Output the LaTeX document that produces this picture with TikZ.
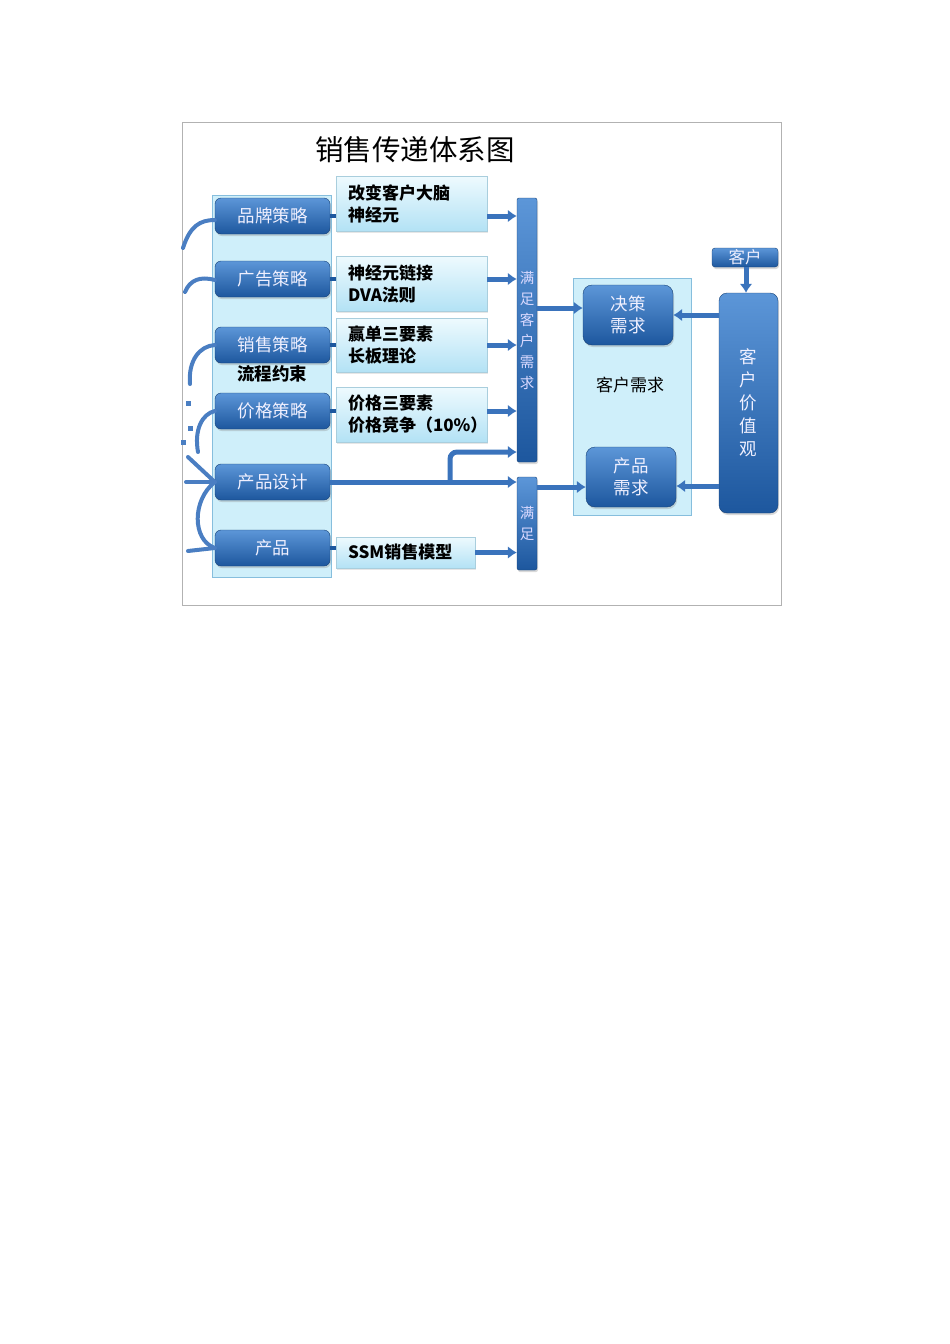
\documentclass[tikz,border=0pt]{standalone}
\usepackage{fontspec}
\setmainfont{Noto Sans CJK SC}
\usepackage{tikz}
\usetikzlibrary{positioning, arrows.meta, shadows}

\definecolor{btntop}{HTML}{5C96D8}
\definecolor{btnbot}{HTML}{1D579E}
\definecolor{notetop}{HTML}{EEFAFE}
\definecolor{notebot}{HTML}{B3E2F5}
\definecolor{panelfill}{HTML}{CFEFFA}
\definecolor{panelline}{HTML}{86BEDD}
\definecolor{flow}{HTML}{3A73BC}
\definecolor{curl}{HTML}{4A7EC2}

\tikzstyle{btn} = [rounded corners=6pt, draw=btnbot!75!black, top color=btntop, bottom color=btnbot, text=white!94!blue, font=\fontsize{17.5}{22}\selectfont, align=center, inner sep=0pt, drop shadow={opacity=0.3, shadow xshift=1pt, shadow yshift=-2pt}]
\tikzstyle{note} = [draw=notebot!80!gray, top color=notetop, bottom color=notebot, text width=127pt, inner xsep=12pt, inner ysep=0pt, minimum height=55pt, align=left, font=\bfseries\fontsize{17}{22}\selectfont, drop shadow={opacity=0.2, shadow xshift=1pt, shadow yshift=-2pt}]
\tikzstyle{barbox} = [btn, rounded corners=2pt, minimum width=20pt, text=white!85!blue, font=\fontsize{14.5}{21}\selectfont]
\tikzstyle{panel} = [draw=panelline, fill=panelfill, inner sep=0pt]
\tikzstyle{arrow} = [line width=5pt, draw=flow, -{Latex[length=9pt,width=13pt]}]
\tikzstyle{stub} = [line width=4pt, draw=btnbot]
\tikzstyle{curlline} = [line width=4pt, draw=curl, line cap=round]

\begin{document}
\begin{tikzpicture}[x=1pt, y=-1pt]
  \useasboundingbox (0,0) rectangle (950,1344);
  \node[draw=gray!60, minimum width=599pt, minimum height=483pt, inner sep=0pt] (frame) at (481.5,363.5) {};
  \node[font=\fontsize{28.5}{30}\selectfont] (title) at (415,150) {销售传递体系图};

  % Left chain
  \node[panel, minimum width=119pt, minimum height=382pt] (chain) at (271.5,386) {};
  \node[btn, minimum width=115pt, minimum height=36pt] (brand) at (272.5,216) {品牌策略};
  \node[btn, minimum width=115pt, minimum height=36pt] (ad) at (272.5,279) {广告策略};
  \node[btn, minimum width=115pt, minimum height=36pt] (sales) at (272.5,345) {销售策略};
  \node[font=\bfseries\fontsize{17.5}{18}\selectfont] (rule) at (272,374) {流程约束};
  \node[btn, minimum width=115pt, minimum height=36pt] (price) at (272.5,411) {价格策略};
  \node[btn, minimum width=115pt, minimum height=36pt] (design) at (272.5,482) {产品设计};
  \node[btn, minimum width=115pt, minimum height=36pt] (product) at (272.5,548) {产品};

  % Notes
  \node[note] (n1) at (411.5,203.5) {\mbox{改变客户大脑}\\神经元};
  \node[note] (n2) at (411.5,283.5) {神经元链接\\DVA法则};
  \node[note, minimum height=54pt] (n3) at (411.5,345) {赢单三要素\\长板理论};
  \node[note] (n4) at (411.5,414.5) {价格三要素\\\mbox{价格竞争（10\%）}};
  \node[note, text width=115pt, minimum height=31pt] (n5) at (405.5,552.5) {SSM销售模型};

  % Bars
  \node[barbox, minimum height=264pt] (bar1) at (527,330) {满\\足\\客\\户\\需\\求};
  \node[barbox, minimum height=93pt] (bar2) at (527,523.5) {满\\足};

  % Customer needs
  \node[panel, minimum width=118pt, minimum height=237pt] (needs) at (632,396.5) {};
  \node[font=\fontsize{17}{18}\selectfont] (needslabel) at (630,385) {客户需求};
  \node[btn, rounded corners=9pt, minimum width=90pt, minimum height=60pt] (decide) at (628,315) {决策\\需求};
  \node[btn, rounded corners=9pt, minimum width=90pt, minimum height=60pt] (want) at (631,477) {产品\\需求};

  % Customer
  \node[btn, rounded corners=3pt, minimum width=66pt, minimum height=19pt, font=\fontsize{16.5}{18}\selectfont] (client) at (745,257.5) {客户};
  \node[btn, rounded corners=8pt, minimum width=59pt, minimum height=220pt, font=\fontsize{17.5}{23}\selectfont] (value) at (748.5,403) {客\\户\\价\\值\\观};

  % Stubs
  \foreach \a/\b in {brand/n1, ad/n2, sales/n3, price/n4, product/n5}
    \draw[stub] (\a.east) -- (\b.west |- \a);

  % Arrows to bars
  \foreach \a/\b in {brand/n1, ad/n2, sales/n3, price/n4}
    \draw[arrow] (\b.east |- \a) -- (bar1.west |- \a);
  \draw[arrow] (n5.east) -- (bar2.west |- n5);
  \coordinate (fork) at (450,482);
  \coordinate (forktop) at (450,452);
  \draw[arrow] (design.east) -- (bar2.west |- design);
  \draw[arrow, rounded corners=7pt] (fork) -- (forktop) -- (bar1.west |- forktop);

  % Arrows to needs
  \draw[arrow] (bar1.east |- 0,308) -- (decide.west |- 0,308);
  \draw[arrow] (bar2.east |- 0,487) -- (want.west |- 0,487);
  \draw[arrow] (client.south -| 746,0) -- (value.north -| 746,0);
  \draw[arrow] (value.west |- decide) -- (decide.east);
  \draw[arrow] (value.west |- 0,486) -- (want.east |- 0,486);

  % Left curves
  \draw[curlline] (183,248) .. controls (190,226) and (200,220) .. ([yshift=-4pt]brand.west);
  \draw[curlline] (185,292) .. controls (190,280) and (200,276) .. ([yshift=-1pt]ad.west);
  \draw[curlline] (190,384) .. controls (188,360) and (200,346) .. (sales.west);
  \draw[curlline] (198,452) .. controls (194,430) and (202,414) .. (price.west);
  \draw[curlline] (188,457) -- (design.west);
  \draw[curlline] (186,482) -- (design.west);
  \draw[curlline] (design.west) .. controls (192,500) and (192,540) .. (product.west);
  \draw[curlline] (188,551) -- (product.west);
  \foreach \p in {(188,403), (190,428), (183,442)}
    \fill[curl] \p ++(-2.5,-2.5) rectangle ++(5,5);
\end{tikzpicture}
\end{document}
